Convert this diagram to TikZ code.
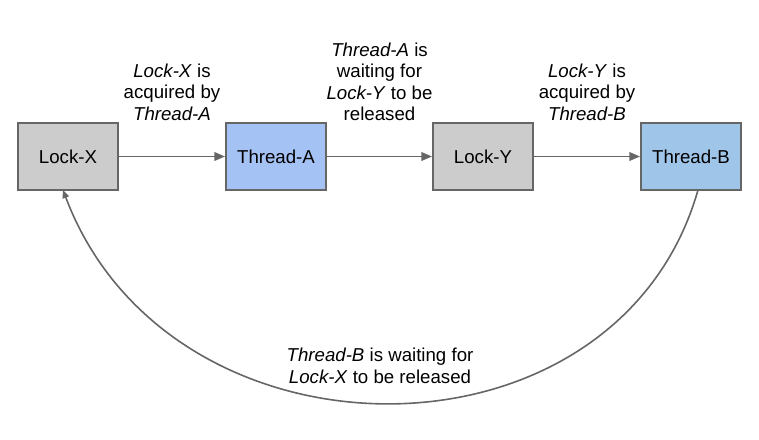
\documentclass[tikz,border=0pt]{standalone}
\usepackage{fontspec}
\setmainfont{Liberation Sans}
\usetikzlibrary{arrows.meta}
\definecolor{lockgray}{HTML}{CCCCCC}
\definecolor{threadA}{HTML}{A4C2F4}
\definecolor{threadB}{HTML}{9FC5E8}
\definecolor{edgegray}{HTML}{666666}
\begin{document}
\begin{tikzpicture}[x=0.75pt,y=-0.75pt,
  box/.style={draw=edgegray,line width=1.5pt,minimum width=75pt,minimum height=50pt,inner sep=0pt,font=\fontsize{14pt}{16pt}\selectfont},
  conn/.style={draw=edgegray,line width=1.2pt,-{Triangle[length=8pt,width=6.5pt]}},
  lbl/.style={align=center,inner sep=0pt,font=\fontsize{14pt}{16.1pt}\selectfont}]
\useasboundingbox (0,0) rectangle (759,439);
\node[box,fill=lockgray] (lx) at (68,156.5) {Lock-X};
\node[box,fill=threadA] (ta) at (276,156.5) {Thread-A};
\node[box,fill=lockgray] (ly) at (483,156.5) {Lock-Y};
\node[box,fill=threadB] (tb) at (691,156.5) {Thread-B};
\draw[conn] (lx) -- (ta);
\draw[conn] (ta) -- (ly);
\draw[conn] (ly) -- (tb);
\coordinate (cs) at (698,190);
\coordinate (ce) at (63,190);
\draw[conn,-{Triangle[length=6pt,width=5pt]}] (cs) .. controls (617,474) and (170,474) .. (ce);
\node[lbl] (l1) at (172,92) {\textit{Lock-X} is\\acquired by\\\textit{Thread-A}};
\node[lbl] (l2) at (379.5,82) {\textit{Thread-A} is\\waiting for\\\textit{Lock-Y} to be\\released};
\node[lbl] (l3) at (587,92) {\textit{Lock-Y} is\\acquired by\\\textit{Thread-B}};
\node[lbl] (l4) at (380,366) {\textit{Thread-B} is waiting for\\\textit{Lock-X} to be released};
\end{tikzpicture}
\end{document}
